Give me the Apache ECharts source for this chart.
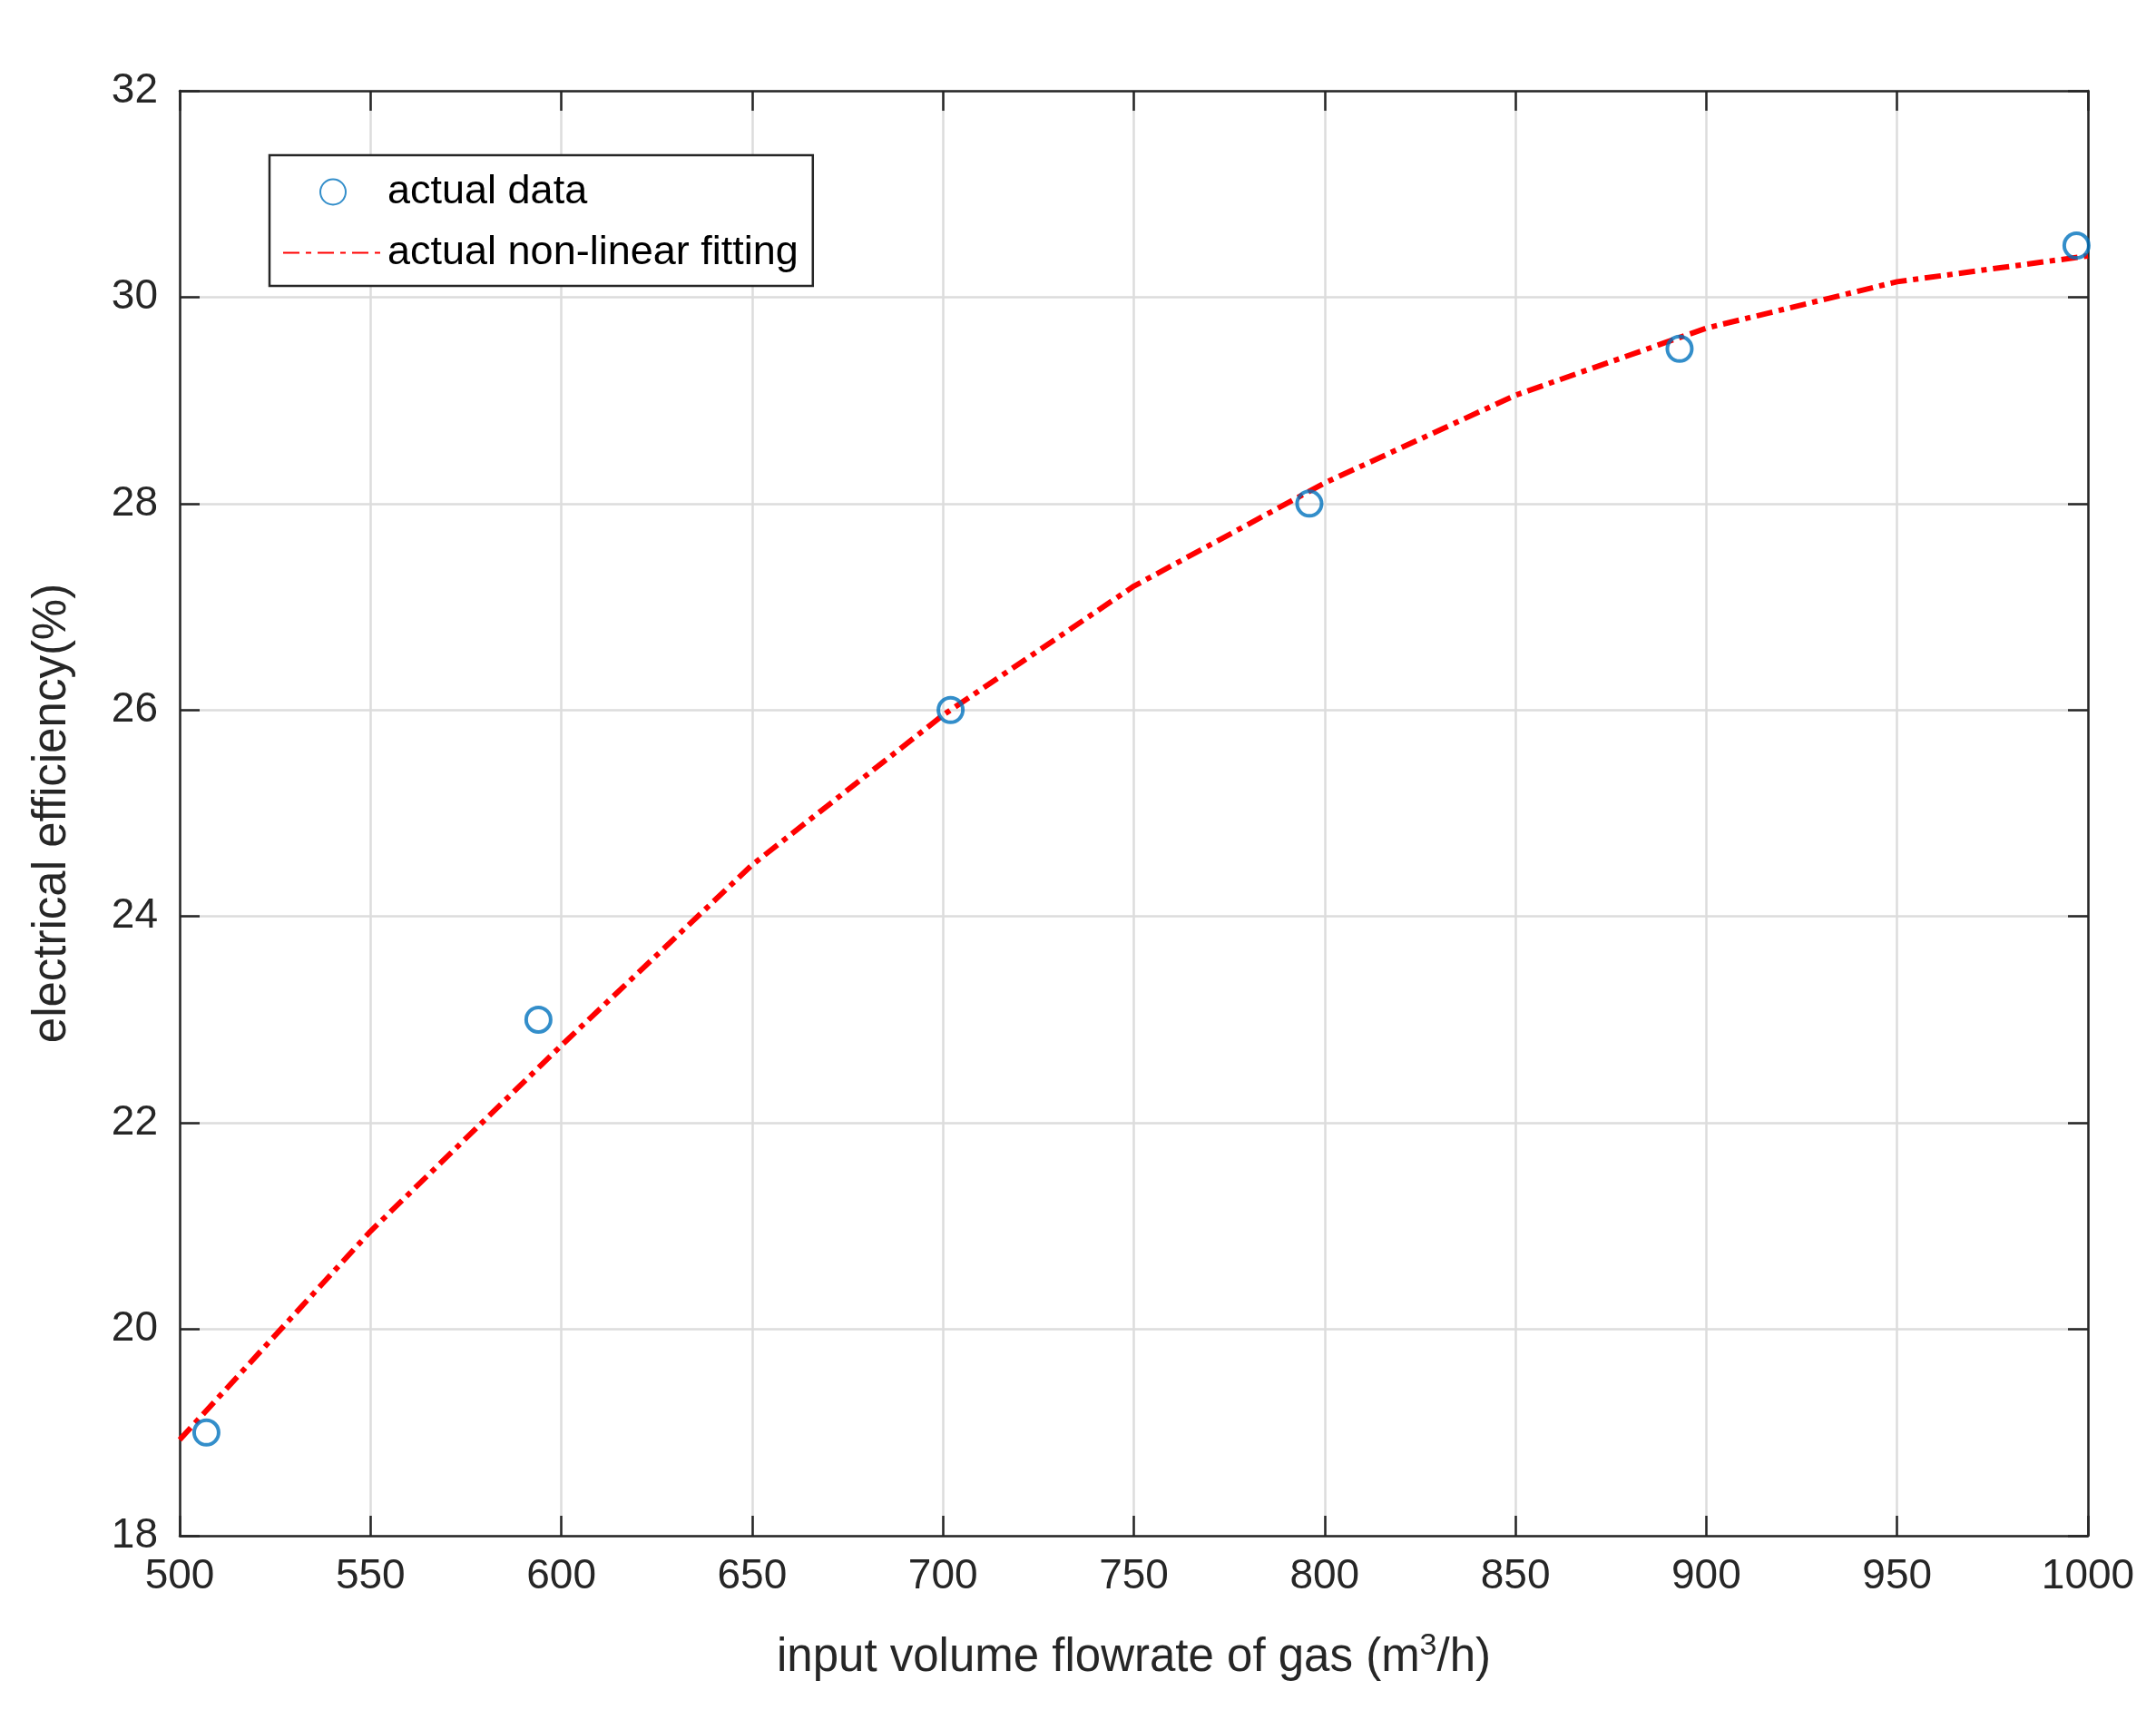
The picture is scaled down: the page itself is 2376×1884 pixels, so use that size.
<!DOCTYPE html>
<html><head><meta charset="utf-8">
<script src="https://cdn.jsdelivr.net/npm/echarts@6/dist/echarts.min.js"></script>
<style>html,body{margin:0;padding:0;background:#fff}#c{width:2376px;height:1884px}</style>
</head><body><div id="c"></div>
<script>
const actualX = [507, 594, 702, 796, 893, 997];
const actualY = [19, 23, 26, 28, 29.5, 30.5];
const fitX = [500, 550, 600, 650, 700, 750, 800, 850, 900, 950, 1000];
const fitY = [18.93, 20.95, 22.75, 24.5, 25.95, 27.2, 28.2, 29.05, 29.7, 30.15, 30.4];
const F = 'Liberation Sans, Arial, sans-serif';
const chart = echarts.init(document.getElementById('c'));
const axLine = {lineStyle:{color:'#262626',width:2.5}};
const tick = {inside:true,length:22,lineStyle:{color:'#262626',width:2.5}};
chart.setOption({
  animation:false,
  backgroundColor:'#fff',
  grid:{left:198,right:75,top:100,bottom:192},
  legend:{
    left:297, top:171, orient:'vertical', backgroundColor:'#fff',
    borderColor:'#262626', borderWidth:2.5, borderRadius:0,
    padding:[18,16,14,14], itemGap:22, itemWidth:110, itemHeight:28,
    textStyle:{fontFamily:F,fontSize:45,color:'#000'},
    data:[{name:'actual data'},{name:'actual non-linear fitting',itemStyle:{opacity:0}}]
  },
  xAxis:[{
    type:'value', min:500, max:1000, interval:50,
    axisLine:axLine, axisTick:tick,
    axisLabel:{fontFamily:F,fontSize:46,color:'#262626',margin:22,formatter:v=>String(v)},
    splitLine:{show:true,lineStyle:{color:'#dcdcdc',width:2.5}},
    name:'{a|input volume flowrate of gas (m}{s|3}{a|/h)}', nameLocation:'middle', nameGap:105,
    nameTextStyle:{rich:{a:{fontFamily:F,fontSize:51,color:'#262626'},s:{fontFamily:F,fontSize:34,color:'#262626',verticalAlign:'top',padding:[0,0,26,0]}}}
  },{
    type:'value', position:'top', min:500, max:1000, interval:50,
    axisLine:axLine, axisTick:tick, axisLabel:{show:false}, splitLine:{show:false}
  }],
  yAxis:[{
    type:'value', min:18, max:32, interval:2,
    axisLine:axLine, axisTick:tick,
    axisLabel:{fontFamily:F,fontSize:46,color:'#262626',margin:24},
    splitLine:{show:true,lineStyle:{color:'#dcdcdc',width:2.5}},
    name:'electrical efficiency(%)', nameLocation:'middle', nameGap:115,
    nameTextStyle:{fontFamily:F,fontSize:51,color:'#262626'}
  },{
    type:'value', position:'right', min:18, max:32, interval:2,
    axisLine:axLine, axisTick:tick, axisLabel:{show:false}, splitLine:{show:false}
  }],
  series:[{
    name:'actual data', type:'scatter', symbol:'circle', symbolSize:27,
    itemStyle:{color:'rgba(255,255,255,0)',borderColor:'#0072BD',borderWidth:4},
    data:actualX.map((x,i)=>[x,actualY[i]]), z:3
  },{
    name:'actual non-linear fitting', type:'line', symbol:'none', showSymbol:false,
    lineStyle:{color:'#ff0000',width:6,type:[18,7,6,7]},
    itemStyle:{color:'#ff0000'},
    data:fitX.map((x,i)=>[x,fitY[i]]), z:2
  }]
});
</script></body></html>
